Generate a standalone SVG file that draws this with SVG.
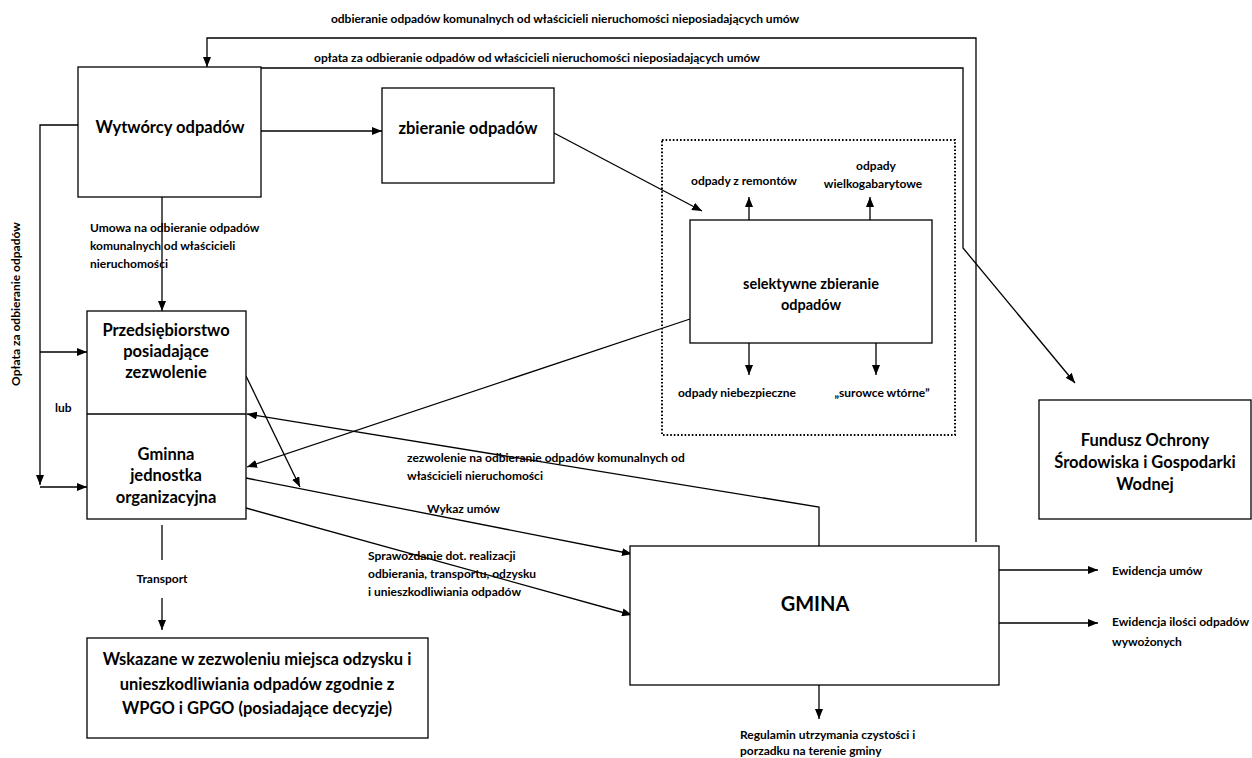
<svg xmlns="http://www.w3.org/2000/svg" width="1252" height="758" viewBox="0 0 1252 758">
<defs>
<marker id="ah" markerWidth="10" markerHeight="8" refX="10" refY="4" orient="auto" markerUnits="userSpaceOnUse">
<path d="M0,0 L10,4 L0,8 Z" fill="#000"/>
</marker>
<style>
.box{fill:#fff;stroke:#000;stroke-width:1.3}
.dot{fill:none;stroke:#000;stroke-width:2;stroke-dasharray:1.6 2}
.c{fill:none;stroke:#000;stroke-width:1.3}
.a{fill:none;stroke:#000;stroke-width:1.3;marker-end:url(#ah)}
.t{font-family:Lato,"Liberation Sans",sans-serif;font-weight:bold;fill:#000}
.big{font-size:16.5px;text-anchor:middle;dominant-baseline:central}
.sm{font-size:12px;dominant-baseline:central}
.mid{text-anchor:middle}
</style>
</defs>
<rect width="1252" height="758" fill="#fff"/>

<g id="group-selective">
<rect class="dot" x="662" y="140" width="293" height="295"/>
</g>

<g id="connectors">
<polyline class="a" points="976,542 976,38 207,38 207,67"/>
<polyline class="a" points="261,68 963,68 963,248 1075,383"/>
<line class="a" x1="261" y1="131" x2="382" y2="131"/>
<line class="a" x1="554" y1="133" x2="702" y2="211"/>
<line class="a" x1="749" y1="220" x2="749" y2="197"/>
<line class="a" x1="870" y1="220" x2="870" y2="197"/>
<line class="a" x1="749" y1="343" x2="749" y2="375"/>
<line class="a" x1="876" y1="343" x2="876" y2="375"/>
<line class="a" x1="690" y1="319" x2="247" y2="467"/>
<line class="a" x1="162" y1="197" x2="162" y2="311"/>
<polyline class="a" points="78,125 40,125 40,485"/>
<line class="a" x1="40" y1="352" x2="87" y2="352"/>
<line class="a" x1="40" y1="487" x2="87" y2="487"/>
<line class="a" x1="246" y1="376" x2="300" y2="487"/>
<polyline class="a" points="819,546 819,507 247,414"/>
<line class="a" x1="246" y1="478" x2="632" y2="554"/>
<line class="a" x1="246" y1="508" x2="632" y2="615"/>
<line class="c" x1="162" y1="525" x2="162" y2="560"/>
<line class="a" x1="162" y1="598" x2="162" y2="630"/>
<line class="a" x1="999" y1="570" x2="1098" y2="570"/>
<line class="a" x1="999" y1="623" x2="1098" y2="623"/>
<line class="a" x1="819" y1="685" x2="819" y2="719"/>
</g>

<g id="n-wytworcy">
<rect class="box" x="78" y="67" width="183" height="130"/>
<text class="t big" x="170" y="127">Wytwórcy odpadów</text>
</g>
<g id="n-zbieranie">
<rect class="box" x="382" y="88" width="172" height="95"/>
<text class="t big" x="468" y="128">zbieranie odpadów</text>
</g>
<g id="n-selektywne">
<rect class="box" x="690" y="220" width="242" height="123"/>
<text class="t big" x="811" y="283" style="font-size:14.5px">selektywne zbieranie</text>
<text class="t big" x="811" y="304" style="font-size:14.5px">odpadów</text>
</g>
<g id="n-fundusz">
<rect class="box" x="1039" y="400" width="212" height="119"/>
<text class="t big" x="1145" y="440">Fundusz Ochrony</text>
<text class="t big" x="1145" y="462">Środowiska i Gospodarki</text>
<text class="t big" x="1145" y="484">Wodnej</text>
</g>
<g id="n-przedsiebiorstwo">
<rect class="box" x="87" y="311" width="159" height="208"/>
<line class="c" x1="87" y1="414" x2="246" y2="414"/>
<text class="t big" x="166" y="330">Przedsiębiorstwo</text>
<text class="t big" x="166" y="351">posiadające</text>
<text class="t big" x="166" y="372">zezwolenie</text>
<text class="t big" x="166" y="454">Gminna</text>
<text class="t big" x="166" y="475">jednostka</text>
<text class="t big" x="166" y="497">organizacyjna</text>
</g>
<g id="n-wskazane">
<rect class="box" x="87" y="638" width="341" height="100"/>
<text class="t big" x="257" y="659">Wskazane w zezwoleniu miejsca odzysku i</text>
<text class="t big" x="257" y="684">unieszkodliwiania odpadów zgodnie z</text>
<text class="t big" x="257" y="708">WPGO i GPGO (posiadające decyzje)</text>
</g>
<g id="n-gmina">
<rect class="box" x="630" y="546" width="369" height="139"/>
<text class="t big" x="815" y="603" style="font-size:20px">GMINA</text>
</g>

<g id="labels">
<text class="t sm mid" x="565" y="18">odbieranie odpadów komunalnych od właścicieli nieruchomości nieposiadających umów</text>
<text class="t sm mid" x="537" y="57">opłata za odbieranie odpadów od właścicieli nieruchomości nieposiadających umów</text>
<text class="t sm" x="90" y="227">Umowa na odbieranie odpadów</text>
<text class="t sm" x="90" y="245">komunalnych od właścicieli</text>
<text class="t sm" x="90" y="263">nieruchomości</text>
<text class="t sm mid" transform="translate(15,304) rotate(-90)" x="0" y="0">Opłata za odbieranie odpadów</text>
<text class="t sm" x="55" y="407">lub</text>
<text class="t sm mid" x="744" y="180">odpady z remontów</text>
<text class="t sm mid" x="876" y="165">odpady</text>
<text class="t sm mid" x="873" y="183">wielkogabarytowe</text>
<text class="t sm mid" x="737" y="392">odpady niebezpieczne</text>
<text class="t sm mid" x="882" y="392">„surowce wtórne”</text>
<text class="t sm" x="407" y="457">zezwolenie na odbieranie odpadów komunalnych od</text>
<text class="t sm" x="407" y="475">właścicieli nieruchomości</text>
<text class="t sm" x="427" y="508">Wykaz umów</text>
<text class="t sm" x="368" y="555">Sprawozdanie dot. realizacji</text>
<text class="t sm" x="368" y="573">odbierania, transportu, odzysku</text>
<text class="t sm" x="368" y="591">i unieszkodliwiania odpadów</text>
<text class="t sm mid" x="162" y="578">Transport</text>
<text class="t sm" x="1112" y="570">Ewidencja umów</text>
<text class="t sm" x="1112" y="621">Ewidencja ilości odpadów</text>
<text class="t sm" x="1112" y="641">wywożonych</text>
<text class="t sm" x="740" y="734">Regulamin utrzymania czystości i</text>
<text class="t sm" x="740" y="750">porzadku na terenie gminy</text>
</g>
</svg>
